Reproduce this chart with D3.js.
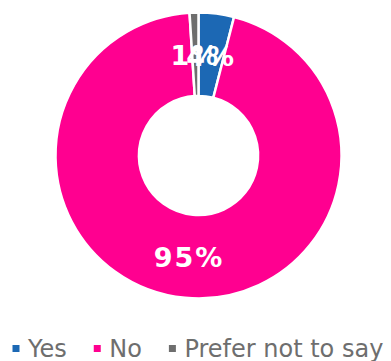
<!DOCTYPE html>
<html>
<head>
<meta charset="utf-8">
<script src="https://cdn.jsdelivr.net/npm/d3@7"></script>
<style>
  html, body { margin: 0; padding: 0; background: #fff; }
  svg { display: block; }
</style>
</head>
<body>
<svg id="chart" width="391" height="361"></svg>
<script>
// Survey answers and their shares (percent)
const categories = ["Yes", "No", "Prefer not to say"];
const values = [4, 95, 1];
const colors = ["#1C68B4", "#FF0090", "#6E6E6E"];

const svg = d3.select("#chart");
const cx = 198.5, cy = 155.5;
const outerR = 143, innerR = 59.6;

const data = categories.map((c, i) => ({ category: c, value: values[i], color: colors[i] }));

const pie = d3.pie().value(d => d.value).sort(null);
const arc = d3.arc().innerRadius(innerR).outerRadius(outerR);

const g = svg.append("g").attr("transform", `translate(${cx},${cy})`);
const arcs = pie(data);

g.selectAll("path.slice")
  .data(arcs)
  .join("path")
  .attr("class", "slice")
  .attr("d", arc)
  .attr("fill", d => d.data.color)
  .attr("stroke", "#fff")
  .attr("stroke-width", 2.5)
  .attr("stroke-linejoin", "round");

g.selectAll("text.pct")
  .data(arcs)
  .join("text")
  .attr("class", "pct")
  .attr("transform", d => `translate(${arc.centroid(d)})`)
  .attr("text-anchor", "middle")
  .attr("dy", "0.4em")
  .attr("font-family", "DejaVu Sans, Verdana, sans-serif")
  .attr("font-weight", "bold")
  .attr("font-size", 27)
  .attr("letter-spacing", 2)
  .attr("fill", "#fff")
  .text(d => d.data.value + "%");

// Legend row along the bottom
const legend = svg.append("g").attr("transform", "translate(12.5,348.5)");
let x = 0;
data.forEach(d => {
  const item = legend.append("g").attr("transform", `translate(${x},0)`);
  item.append("rect")
    .attr("x", 0).attr("y", -3.5)
    .attr("width", 7).attr("height", 7)
    .attr("fill", d.color);
  const t = item.append("text")
    .attr("x", 15.5).attr("y", 8)
    .attr("font-family", "DejaVu Sans, Verdana, sans-serif")
    .attr("font-size", 24)
    .attr("fill", "#6E6E6E")
    .text(d.category);
  x += 15.5 + t.node().getComputedTextLength() + 27;
});
</script>
</body>
</html>
